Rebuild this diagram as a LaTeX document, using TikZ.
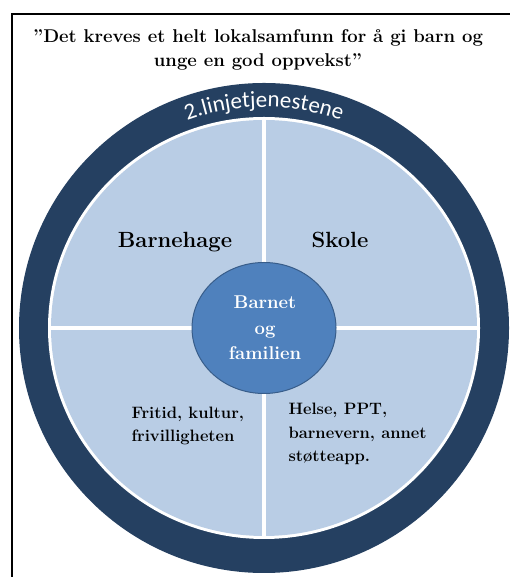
\documentclass[tikz,border=0pt]{standalone}
\usepackage{fontspec}
\usepackage{tikz}
\usetikzlibrary{shapes.geometric}
\usetikzlibrary{decorations.text}
\newfontfamily\ringfont{Carlito}
\definecolor{ringblue}{RGB}{37,64,97}
\definecolor{paleblue}{RGB}{185,205,229}
\definecolor{midblue}{RGB}{79,129,189}
\definecolor{edgeblue}{RGB}{56,93,138}
\tikzset{quad/.style = {font=\bfseries\fontsize{22}{24}\selectfont, anchor = base}}
\tikzset{small/.style = {font=\bfseries\fontsize{16.5}{23.5}\selectfont, align = left, anchor = base west}}
\tikzset{divider/.style = {draw = white, line width = 4pt}}

\begin{document}
\begin{tikzpicture}[x = 1pt, y = 1pt]
      \useasboundingbox (0, 0) rectangle (510, 577);
      \draw [line width = 1.8pt] (12, 563) rectangle (540, -30);
      % base of a multi-line node is its last line
      \node [font = \bfseries\fontsize{18.5}{24}\selectfont, align = center, anchor = base] (title) at (258, 510)
        {"Det kreves et helt lokalsamfunn for å gi barn og\\unge en god oppvekst''};
      % ring and quarters
      \coordinate (c) at (264, 249);
      \fill [ringblue] (c) circle (245);
      \fill [white] (c) ellipse (216 and 211);
      \fill [paleblue] (c) ellipse (213 and 208);
      \coordinate (w) at (49, 249);
      \coordinate (e) at (479, 249);
      \coordinate (n) at (264, 459);
      \coordinate (s) at (264, 39);
      \draw [divider] (w) -- (e);
      \draw [divider] (n) -- (s);
      \path [decorate, decoration = {text along path, text align = center,
          text = {|\ringfont\fontsize{23}{23}\selectfont\color{white}|2.linjetjenestene}}]
        (c) ++(134:221) arc (134:46:221);
      \node [ellipse, fill = midblue, draw = edgeblue, line width = 1pt, minimum width = 144, minimum height = 131,
             inner sep = 0] (child) at (c) {};
      \node [text = white, align = center, anchor = base, font = \bfseries\fontsize{18.5}{25.5}\selectfont]
        (childtext) at (265, 217) {Barnet\\og\\familien};
      \node [quad] (kinder) at (175, 329) {Barnehage};
      \node [quad] (school) at (340, 329) {Skole};
      \node [small] (leisure) at (128, 135) {Fritid, kultur,\\frivilligheten};
      \node [small] (health) at (285, 115) {Helse, PPT,\\barnevern, annet\\støtteapp.};
    \end{tikzpicture}
\end{document}
